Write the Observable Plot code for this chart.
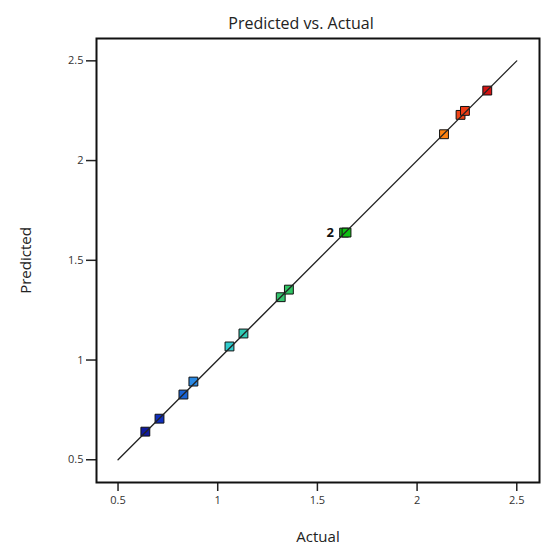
<!DOCTYPE html>
<html>
<head>
<meta charset="utf-8">
<script src="https://cdn.jsdelivr.net/npm/d3@7"></script>
<script src="https://cdn.jsdelivr.net/npm/@observablehq/plot@0.6"></script>
<style>
  body { margin: 0; background: #fff; }
  svg { font-family: "Open Sans", sans-serif; }
</style>
</head>
<body>
<div id="chart"></div>
<script>
const actual    = [0.637, 0.708, 0.828, 0.878, 1.059, 1.129, 1.316, 1.357, 1.634, 1.646, 2.135, 2.218, 2.240, 2.352];
const predicted = [0.641, 0.706, 0.827, 0.892, 1.068, 1.133, 1.315, 1.353, 1.639, 1.639, 2.132, 2.229, 2.249, 2.351];
const tickValues = [0.5, 1, 1.5, 2, 2.5];
const lineRange = [0.5, 2.5];
const overlapLabels = [{x: 1.64, y: 1.639, label: "2"}];
const title = "Predicted vs. Actual";

const points = actual.map((a, i) => ({actual: a, predicted: predicted[i]}));

const chart = Plot.plot({
  width: 550,
  height: 556,
  marginLeft: 96,
  marginRight: 11,
  marginTop: 38,
  marginBottom: 74,
  style: {fontFamily: "Open Sans, sans-serif", color: "#222", background: "#fff"},
  x: {domain: [0.392, 2.614], ticks: tickValues, tickFormat: d => String(d), tickSize: 9, tickPadding: 5, label: "Actual", labelAnchor: "center", labelOffset: 59, labelArrow: false},
  y: {domain: [0.386, 2.612], ticks: tickValues, tickFormat: d => String(d), tickSize: 10, tickPadding: 3, label: "Predicted", labelAnchor: "center", labelOffset: 76, labelArrow: false},
  color: {
    type: "linear",
    domain: [0.64, 0.71, 0.83, 0.89, 1.07, 1.32, 1.64, 2.13, 2.23, 2.35],
    range: ["#101a9c", "#1030c0", "#1a64d4", "#2a88e4", "#30cccc", "#34c46c", "#10c014", "#ff8410", "#f04418", "#d41414"]
  },
  marks: [
    Plot.frame({stroke: "#111", strokeWidth: 2}),
    Plot.dot(points, {x: "actual", y: "predicted", symbol: "square", r: 5, fill: "predicted", stroke: "#111", strokeWidth: 1}),
    Plot.line(lineRange, {x: d => d, y: d => d, stroke: "#222", strokeWidth: 1.3}),
    Plot.text(overlapLabels, {x: "x", y: "y", text: "label", dx: -15, fontWeight: "bold", fontSize: 13, fill: "#111"}),
    Plot.text([title], {frameAnchor: "top", lineAnchor: "middle", dy: -15, dx: -17, fontSize: 16, fill: "#222"})
  ]
});

chart.querySelectorAll('g[aria-label="x-axis tick label"], g[aria-label="y-axis tick label"]').forEach(g => { g.setAttribute("font-size", "11"); g.setAttribute("fill", "#333"); });
chart.querySelectorAll('g[aria-label="x-axis label"], g[aria-label="y-axis label"]').forEach(g => { g.setAttribute("font-size", "15"); g.setAttribute("fill", "#222"); });
chart.querySelectorAll('g[aria-label="x-axis tick"], g[aria-label="y-axis tick"]').forEach(g => g.setAttribute("stroke-width", "1.5"));
document.getElementById("chart").appendChild(chart);
</script>
</body>
</html>
